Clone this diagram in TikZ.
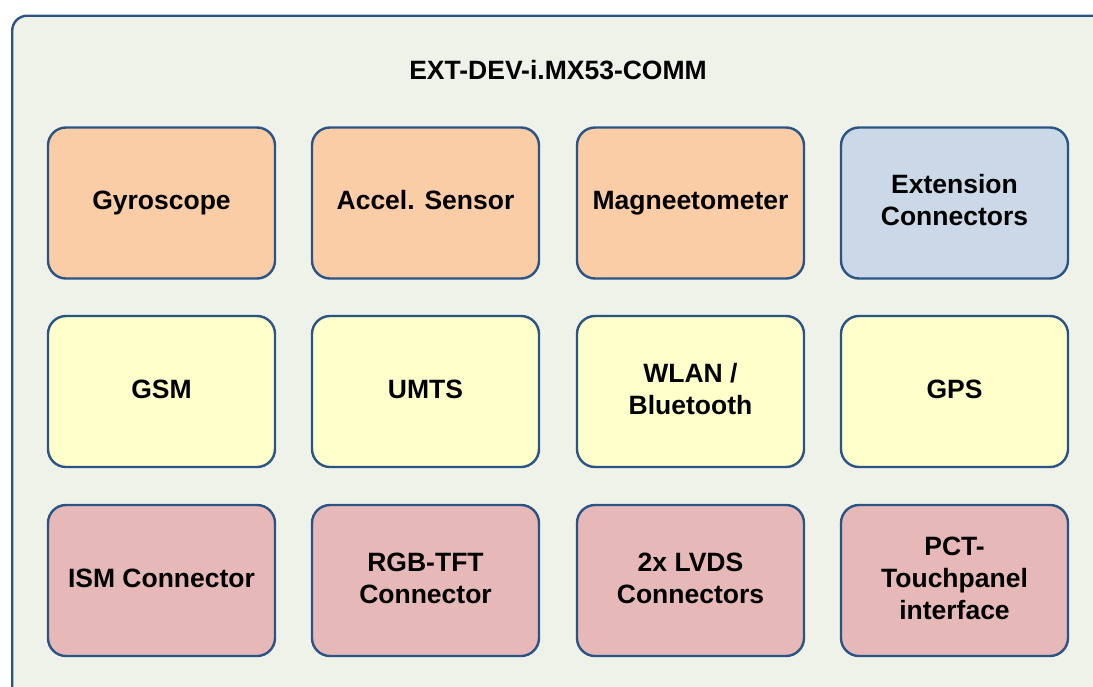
\documentclass[tikz,border=0pt]{standalone}
\usepackage{fontspec}
\setmainfont{Liberation Sans}
\definecolor{edge}{HTML}{2A5386}
\definecolor{bgfill}{HTML}{EFF2E8}
\definecolor{orangefill}{HTML}{FBCDA6}
\definecolor{bluefill}{HTML}{CAD8E7}
\definecolor{yellowfill}{HTML}{FFFFCC}
\definecolor{pinkfill}{HTML}{E6B8B7}
\begin{document}
\begin{tikzpicture}[x=1pt,y=-1pt,
  frame/.style={draw=edge,fill=bgfill,line width=2.4pt,rounded corners=15pt,
    minimum width=1110pt,minimum height=690pt,inner sep=0pt,anchor=north west},
  blk/.style={draw=edge,line width=2.4pt,rounded corners=18pt,
    minimum width=227pt,minimum height=151pt,inner sep=2pt,align=center,
    font=\fontsize{26.5}{32}\selectfont\bfseries,
    execute at end node={\vphantom{y}}},
  title/.style={font=\fontsize{26.5}{32}\selectfont\bfseries,anchor=base,inner sep=0pt},
  orangeblk/.style={blk,fill=orangefill},
  blueblk/.style={blk,fill=bluefill},
  yellowblk/.style={blk,fill=yellowfill},
  pinkblk/.style={blk,fill=pinkfill}]
\useasboundingbox (0,0) rectangle (1093,686);
\clip (0,0) rectangle (1093,686);
\node[frame] (frame) at (11,14.5) {};
\node[title] (ttl) at (558,79) {EXT-DEV-i.MX53-COMM};
\node[orangeblk] (gyro) at (161.5,203) {Gyroscope};
\node[orangeblk] (accel) at (425.5,203) {Accel. Sensor};
\node[orangeblk] (magn) at (690.5,203) {Magneetometer};
\node[blueblk] (ext) at (954.5,203) {Extension\\Connectors};
\node[yellowblk] (gsm) at (161.5,391.5) {GSM};
\node[yellowblk] (umts) at (425.5,391.5) {UMTS};
\node[yellowblk] (wlan) at (690.5,391.5) {WLAN /\\Bluetooth};
\node[yellowblk] (gps) at (954.5,391.5) {GPS};
\node[pinkblk] (ism) at (161.5,580.5) {ISM Connector};
\node[pinkblk] (rgb) at (425.5,580.5) {RGB-TFT\\Connector};
\node[pinkblk] (lvds) at (690.5,580.5) {2x LVDS\\Connectors};
\node[pinkblk] (pct) at (954.5,580.5) {PCT-\\Touchpanel\\interface};
\end{tikzpicture}
\end{document}
